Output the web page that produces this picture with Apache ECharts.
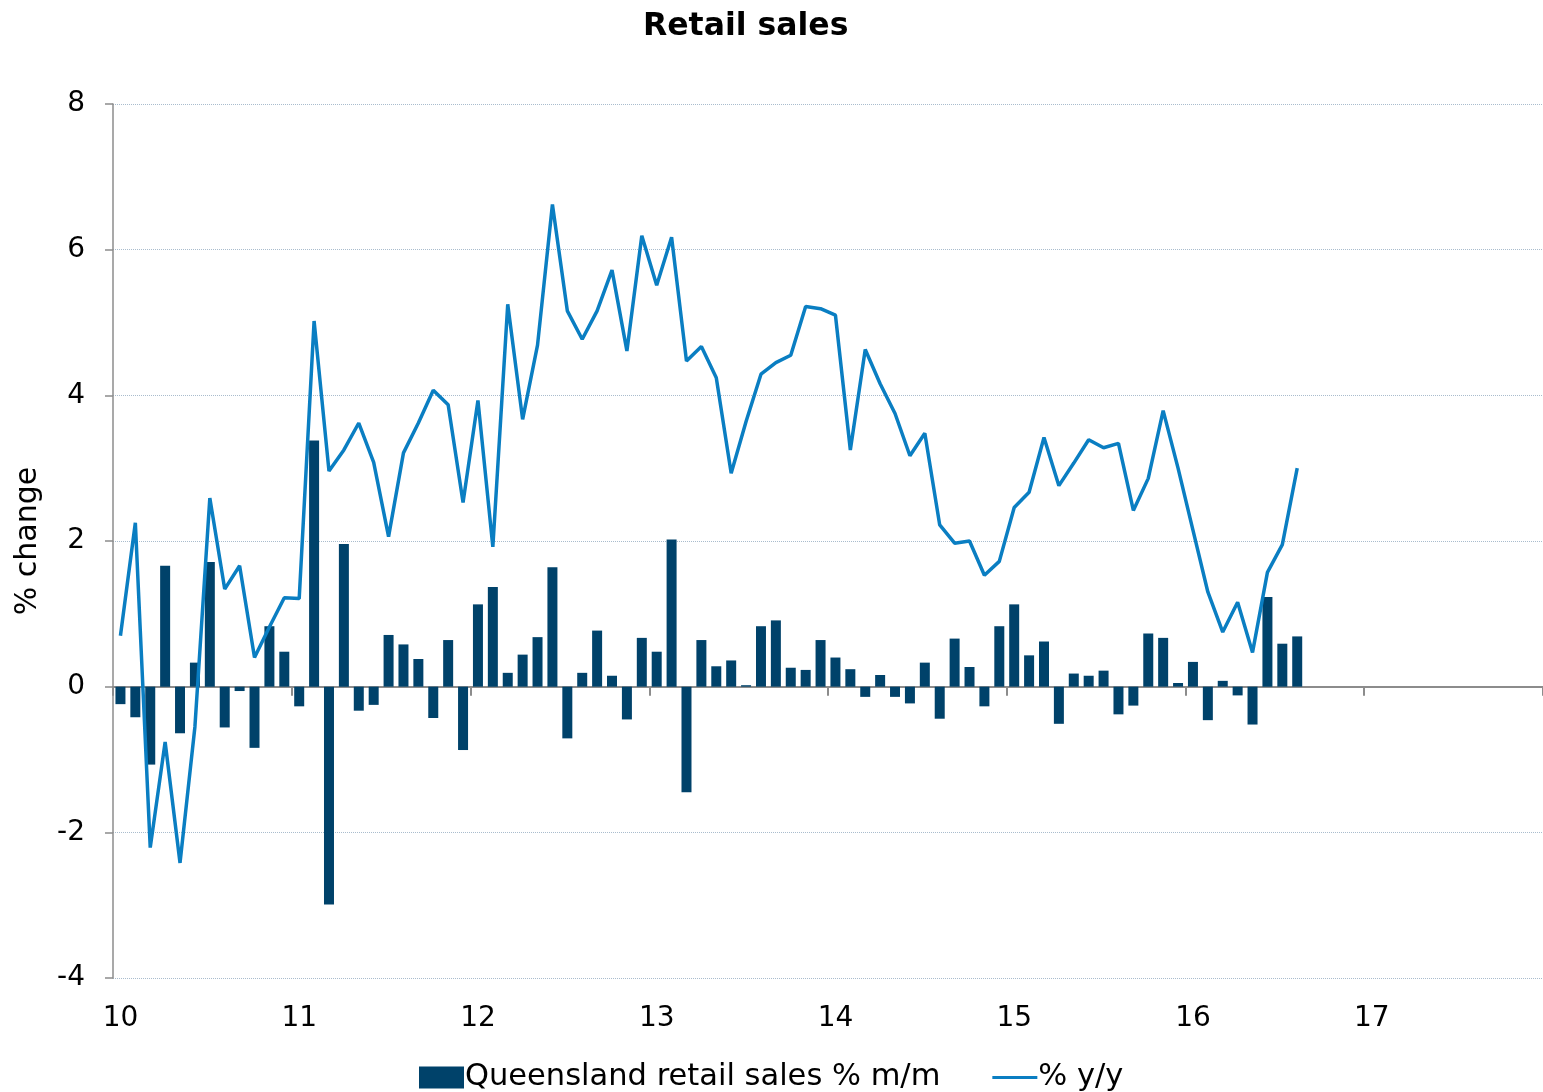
<!DOCTYPE html>
<html>
<head>
<meta charset="utf-8">
<style>
html,body{margin:0;padding:0;background:#fff;}
#chart{width:1543px;height:1092px;}
</style>
<script src="https://cdn.jsdelivr.net/npm/echarts@6/dist/echarts.min.js"></script>
</head>
<body>
<div id="chart"></div>
<script>
var yearLabels = ['10','11','12','13','14','15','16','17'];
var monthsPerYear = 12;

var momValues = [
  -0.24,-0.42,-1.07,1.66,-0.64,0.33,1.71,-0.56,-0.06,-0.84,0.83,0.48,
  -0.27,3.38,-2.99,1.96,-0.33,-0.25,0.71,0.58,0.38,-0.43,0.64,-0.87,
  1.13,1.37,0.19,0.44,0.68,1.64,-0.71,0.19,0.77,0.15,-0.45,0.67,
  0.48,2.02,-1.45,0.64,0.28,0.36,0.02,0.83,0.91,0.26,0.23,0.64,
  0.40,0.24,-0.14,0.16,-0.14,-0.23,0.33,-0.44,0.66,0.27,-0.27,0.83,
  1.13,0.43,0.62,-0.51,0.18,0.15,0.22,-0.38,-0.26,0.73,0.67,0.05,
  0.34,-0.46,0.08,-0.12,-0.52,1.23,0.59,0.69
];
var yoyValues = [
  0.70,2.25,-2.21,-0.76,-2.42,-0.55,2.59,1.34,1.66,0.40,0.82,1.22,
  1.21,5.02,2.96,3.25,3.62,3.08,2.06,3.21,3.62,4.07,3.87,2.53,
  3.93,1.92,5.25,3.67,4.69,6.62,5.16,4.77,5.16,5.72,4.61,6.19,
  5.51,6.17,4.47,4.67,4.24,2.93,3.64,4.29,4.45,4.55,5.22,5.19,
  5.10,3.25,4.63,4.16,3.75,3.17,3.48,2.22,1.97,2.00,1.53,1.72,
  2.46,2.67,3.42,2.76,3.07,3.39,3.28,3.34,2.42,2.86,3.79,3.00,
  2.15,1.30,0.75,1.16,0.47,1.57,1.95,3.00
];
var seriesNames = ['Queensland retail sales % m/m', '% y/y'];

var categories = [];
yearLabels.forEach(function (y) {
  for (var m = 0; m < monthsPerYear; m++) categories.push(m === 0 ? y : y + '-' + (m + 1));
});

var FONT = 'DejaVu Sans, Verdana, sans-serif';
var chart = echarts.init(document.getElementById('chart'), null, {renderer: 'canvas'});
chart.setOption({
  animation: false,
  backgroundColor: '#ffffff',
  textStyle: {fontFamily: FONT},
  title: {
    text: 'Retail sales',
    left: 638, top: 6,
    textStyle: {fontFamily: FONT, fontWeight: 'bold', fontSize: 31.5, color: '#000'}
  },
  legend: {
    left: 414, top: 1057,
    itemWidth: 45, itemHeight: 22, itemGap: 52,
    textStyle: {fontFamily: FONT, fontSize: 30.5, color: '#000', padding: [0,0,0,-4]},
    data: [
      {name: seriesNames[0], icon: 'rect'},
      {name: seriesNames[1], icon: 'path://M0,0 L48,0 L48,3 L0,3 Z'}
    ]
  },
  grid: {left: 113, right: 0, top: 104, bottom: 114, containLabel: false},
  xAxis: [
    {
      type: 'category', data: categories, boundaryGap: true, position: 'bottom',
      axisLine: {show: false, onZero: false},
      axisTick: {show: false},
      axisLabel: {
        interval: monthsPerYear - 1, margin: 27,
        fontFamily: FONT, fontSize: 28, color: '#000',
        formatter: function (v) { return v.indexOf('-') >= 0 ? '' : v; }
      },
      splitLine: {show: false}
    },
    {
      type: 'category', data: categories, boundaryGap: true, position: 'top',
      axisLine: {show: true, onZero: true, lineStyle: {color: '#8c8c8c', width: 2}},
      axisTick: {show: true, inside: true, interval: monthsPerYear - 1, length: 9, lineStyle: {color: '#8c8c8c', width: 2}},
      axisLabel: {show: false},
      splitLine: {show: false}
    }
  ],
  yAxis: {
    type: 'value', min: -4, max: 8, interval: 2,
    name: '% change', nameLocation: 'middle', nameGap: 70, nameRotate: 90,
    nameTextStyle: {fontFamily: FONT, fontSize: 30, color: '#000'},
    axisLine: {show: true, lineStyle: {color: '#8c8c8c', width: 1.5}},
    axisTick: {show: true, length: 8, lineStyle: {color: '#8c8c8c', width: 1.5}},
    axisLabel: {margin: 28, fontFamily: FONT, fontSize: 28, color: '#000'},
    splitLine: {show: true, lineStyle: {color: '#a9bccd', type: 'dotted', width: 1}}
  },
  series: [
    {
      name: seriesNames[0], type: 'bar', xAxisIndex: 0, data: momValues,
      barWidth: 10,
      itemStyle: {color: '#00426a'}
    },
    {
      name: seriesNames[1], type: 'line', xAxisIndex: 0, data: yoyValues,
      symbol: 'none', showSymbol: false,
      lineStyle: {color: '#0a7ec2', width: 3.5},
      itemStyle: {color: '#0a7ec2'},
      z: 3
    }
  ]
});
</script>
</body>
</html>
